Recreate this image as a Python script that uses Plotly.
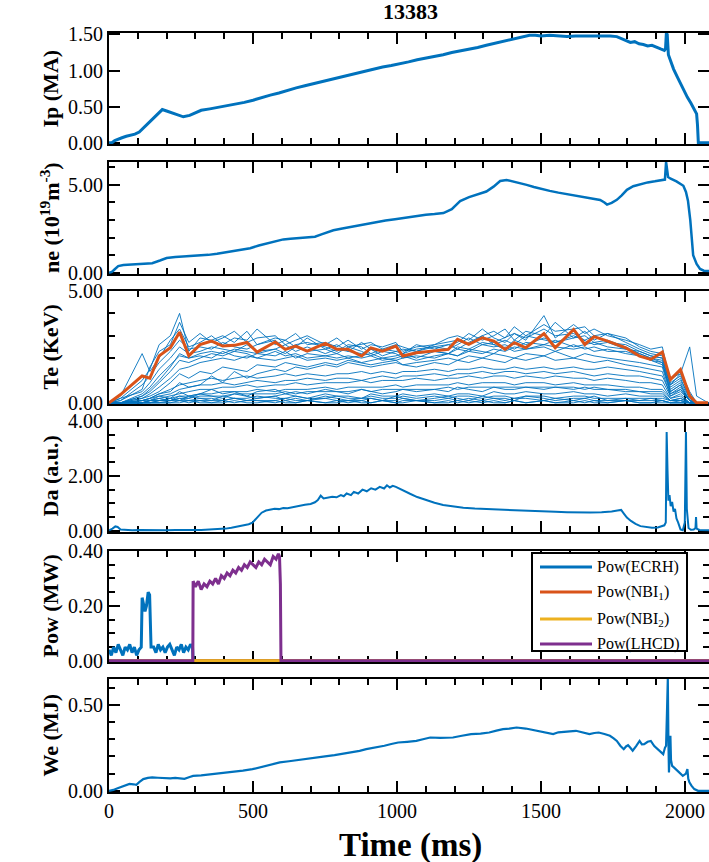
import plotly.graph_objects as go

# ---------------------------------------------------------------- data
SHOT = "13383"

# plasma current (ms, MA)
IP = [(0, 0.0), (10, 0.0), (20, 0.03), (30, 0.05), (45, 0.07), (60, 0.09), (75, 0.10), (90, 0.12),
      (105, 0.15), (120, 0.21), (140, 0.29), (160, 0.37), (175, 0.43), (185, 0.46), (200, 0.44),
      (220, 0.41), (240, 0.38), (258, 0.36), (280, 0.38), (300, 0.42), (320, 0.45), (350, 0.47),
      (380, 0.49), (410, 0.51), (440, 0.53), (470, 0.56), (500, 0.59), (530, 0.63), (560, 0.66),
      (590, 0.69), (620, 0.73), (650, 0.76), (680, 0.79), (710, 0.82), (740, 0.85), (770, 0.88),
      (800, 0.91), (830, 0.94), (860, 0.97), (890, 1.00), (920, 1.02), (950, 1.05), (980, 1.07),
      (1010, 1.09), (1040, 1.12), (1070, 1.15), (1100, 1.17), (1130, 1.20), (1160, 1.22),
      (1190, 1.25), (1220, 1.27), (1250, 1.30), (1280, 1.32), (1310, 1.35), (1340, 1.38),
      (1370, 1.41), (1400, 1.44), (1420, 1.46), (1440, 1.48), (1460, 1.49), (1480, 1.49),
      (1500, 1.48), (1530, 1.49), (1560, 1.48), (1590, 1.47), (1620, 1.48), (1650, 1.48),
      (1680, 1.49), (1710, 1.48), (1740, 1.48), (1763, 1.47), (1780, 1.44), (1795, 1.41),
      (1810, 1.39), (1825, 1.40), (1840, 1.37), (1855, 1.36), (1870, 1.34), (1885, 1.35),
      (1900, 1.32), (1915, 1.30), (1928, 1.28), (1932, 1.30), (1935, 1.52), (1938, 1.50),
      (1942, 1.22), (1950, 1.13), (1960, 1.02), (1972, 0.92), (1985, 0.81), (1997, 0.72),
      (2008, 0.63), (2020, 0.55), (2030, 0.47), (2040, 0.40), (2043, 0.25), (2046, 0.0),
      (2060, 0.0), (2083, 0.0)]

# line-averaged density (ms, 1e19 m^-3)
NE = [(0, 0.0), (10, 0.05), (20, 0.2), (32, 0.38), (50, 0.44), (75, 0.47), (100, 0.5), (125, 0.52),
      (150, 0.55), (177, 0.7), (200, 0.84), (230, 0.9), (260, 0.93), (290, 0.95), (316, 0.97),
      (345, 1.02), (375, 1.08), (405, 1.16), (431, 1.22), (460, 1.3), (490, 1.4), (520, 1.55),
      (550, 1.68), (580, 1.8), (605, 1.9), (630, 1.94), (660, 1.98), (690, 2.02), (715, 2.05),
      (740, 2.2), (779, 2.42), (810, 2.52), (837, 2.6), (870, 2.72), (900, 2.82), (930, 2.9),
      (960, 2.97), (993, 3.05), (1030, 3.15), (1068, 3.25), (1100, 3.3), (1130, 3.34),
      (1161, 3.4), (1190, 3.62), (1219, 4.08), (1250, 4.3), (1280, 4.45), (1310, 4.62),
      (1335, 4.9), (1358, 5.22), (1380, 5.28), (1403, 5.2), (1425, 5.12), (1450, 5.0),
      (1475, 4.88), (1500, 4.76), (1530, 4.66), (1560, 4.56), (1590, 4.48), (1620, 4.4),
      (1650, 4.32), (1680, 4.22), (1705, 4.14), (1720, 4.0), (1729, 3.88), (1745, 3.98),
      (1763, 4.15), (1780, 4.4), (1798, 4.72), (1820, 4.92), (1845, 5.05), (1870, 5.14),
      (1895, 5.2), (1915, 5.24), (1930, 5.3), (1934, 6.3), (1937, 5.9), (1941, 5.45),
      (1950, 5.35), (1970, 5.2), (1994, 4.95), (2003, 4.6), (2010, 4.1), (2018, 3.0),
      (2028, 1.0), (2040, 0.5), (2052, 0.22), (2065, 0.12), (2083, 0.1)]

# electron temperature, ECE channels on a common time base (ms, keV)
TE_T = [0, 40, 115, 142, 174, 213, 245, 277, 316, 356, 395, 435, 479, 514, 577, 612, 648, 688,
        751, 791, 830, 877, 909, 949, 996, 1020, 1067, 1130, 1178, 1210, 1249, 1296, 1336,
        1375, 1407, 1447, 1510, 1549, 1613, 1652, 1684, 1731, 1794, 1842, 1881, 1921, 1949,
        1984, 2016, 2040, 2080]

TE_CORE = [0, 0.37, 1.2, 1.1, 2.1, 2.46, 3.16, 2.1, 2.6, 2.76, 2.54, 2.57, 2.7, 2.27, 2.72,
           2.39, 2.54, 2.31, 2.66, 2.39, 2.39, 2.09, 2.46, 2.31, 2.54, 2.09, 2.24, 2.31, 2.39,
           2.84, 2.61, 2.91, 2.76, 2.39, 2.69, 2.46, 3.1, 2.46, 3.28, 2.61, 2.96, 2.76, 2.46,
           2.09, 1.94, 2.27, 1.04, 1.49, 0.3, 0, 0]

TE_CHANNELS = [
    [0, 0.2, 1.0, 1.5, 2.6, 3.0, 4.0, 2.3, 2.9, 2.8, 3.0, 2.7, 3.2, 2.6, 2.9, 2.8, 3.1, 2.6, 2.7, 2.5,
     2.8, 2.4, 2.6, 2.5, 2.7, 2.3, 2.5, 2.6, 2.9, 3.0, 2.8, 3.3, 2.9, 2.7, 3.1, 2.8, 3.9, 2.9, 3.5, 3.1,
     3.3, 3.0, 2.8, 2.6, 2.4, 2.5, 0.9, 1.2, 0.4, 0, 0],
    [0, 0.3, 2.2, 1.4, 2.0, 2.8, 3.3, 2.5, 2.7, 3.0, 2.6, 2.9, 2.8, 3.3, 2.6, 2.8, 2.5, 2.9, 2.4, 2.6,
     2.3, 2.7, 2.4, 2.3, 2.5, 2.2, 2.6, 2.4, 2.6, 2.7, 3.1, 2.8, 3.0, 3.3, 2.8, 3.2, 3.0, 3.6, 2.9, 3.2,
     2.8, 3.1, 2.7, 2.4, 2.2, 2.1, 1.0, 1.4, 0.5, 0, 0],
    [0, 0.1, 0.8, 1.2, 1.8, 2.3, 2.8, 2.4, 2.5, 2.4, 2.7, 2.5, 2.4, 2.6, 2.8, 2.4, 2.6, 2.7, 2.5, 2.3,
     2.6, 2.5, 2.2, 2.4, 2.3, 2.4, 2.3, 2.5, 2.4, 2.6, 2.9, 2.6, 2.7, 2.9, 3.1, 2.9, 3.3, 3.0, 3.1, 2.8,
     3.0, 2.7, 2.6, 2.3, 2.1, 2.0, 0.8, 1.1, 0.2, 0, 0],
    [0, 0.2, 0.5, 0.9, 1.5, 2.0, 2.5, 2.2, 2.3, 2.5, 2.4, 2.3, 2.6, 2.3, 2.4, 2.6, 2.3, 2.5, 2.2, 2.4,
     2.3, 2.2, 2.4, 2.1, 2.3, 2.2, 2.4, 2.5, 2.6, 2.4, 2.7, 3.0, 2.6, 2.8, 2.6, 3.0, 2.8, 2.7, 2.9, 3.0,
     2.7, 2.8, 2.5, 2.2, 2.0, 1.9, 0.7, 1.0, 0.3, 0, 0],
    [0, 0, 0.3, 0.5, 0.9, 1.4, 1.9, 1.8, 2.0, 2.2, 2.1, 2.3, 2.2, 2.0, 2.3, 2.1, 2.2, 2.0, 2.1, 2.2,
     2.0, 2.1, 2.2, 2.0, 2.1, 2.2, 2.0, 2.3, 2.2, 2.4, 2.3, 2.6, 2.5, 2.6, 2.4, 2.7, 2.6, 2.8, 2.5, 2.6,
     2.7, 2.5, 2.4, 2.2, 2.0, 1.8, 0.6, 0.9, 0.2, 0, 0],
    [0, 0, 0.2, 0.4, 0.7, 1.1, 1.5, 1.6, 1.8, 1.9, 2.0, 1.9, 2.1, 2.0, 1.9, 2.0, 2.1, 1.9, 2.0, 1.9,
     2.0, 1.8, 1.9, 2.0, 1.9, 2.0, 2.1, 2.0, 2.2, 2.1, 2.3, 2.2, 2.4, 2.3, 2.5, 2.4, 2.6, 2.5, 2.4, 2.5,
     2.3, 2.4, 2.2, 2.1, 1.9, 1.8, 0.5, 0.8, 0.1, 0, 0],
    [0, 0, 0.4, 0.7, 1.2, 1.7, 2.1, 2.0, 2.2, 2.3, 2.2, 2.4, 2.3, 2.2, 2.4, 2.2, 2.5, 2.3, 2.4, 2.2,
     2.5, 2.3, 2.1, 2.3, 2.2, 2.0, 2.2, 2.3, 2.2, 2.5, 2.4, 2.7, 2.6, 2.4, 2.8, 2.6, 2.9, 2.7, 3.0, 2.8,
     2.6, 2.7, 2.4, 2.3, 2.1, 2.0, 0.8, 1.3, 2.5, 0.3, 0],
    [0, 0, 0.1, 0.2, 0.4, 0.6, 0.8, 0.9, 1.0, 1.1, 1.0, 1.1, 1.2, 1.1, 1.2, 1.3, 1.2, 1.3, 1.2, 1.3,
     1.3, 1.4, 1.3, 1.4, 1.3, 1.4, 1.4, 1.5, 1.4, 1.5, 1.5, 1.6, 1.5, 1.5, 1.6, 1.5, 1.6, 1.5, 1.6, 1.5,
     1.5, 1.6, 1.5, 1.4, 1.3, 1.2, 0.4, 0.6, 0.1, 0, 0],
    [0, 0, 0.1, 0.1, 0.3, 0.4, 0.6, 0.7, 0.8, 0.8, 0.9, 0.8, 0.9, 1.0, 0.9, 1.0, 1.0, 1.1, 1.0, 1.1,
     1.1, 1.0, 1.1, 1.2, 1.1, 1.2, 1.2, 1.3, 1.2, 1.3, 1.3, 1.4, 1.3, 1.4, 1.4, 1.3, 1.4, 1.3, 1.4, 1.3,
     1.2, 1.3, 1.2, 1.2, 1.1, 1.0, 0.3, 0.5, 0.1, 0, 0],
    [0, 0, 0, 0.1, 0.2, 0.3, 0.4, 0.5, 0.6, 0.6, 0.7, 0.7, 0.8, 0.7, 0.8, 0.8, 0.9, 0.8, 0.9, 0.9,
     0.9, 1.0, 0.9, 1.0, 1.0, 1.0, 1.1, 1.0, 1.1, 1.1, 1.2, 1.1, 1.2, 1.2, 1.1, 1.2, 1.1, 1.2, 1.1, 1.1,
     1.0, 1.1, 1.0, 0.9, 0.9, 0.8, 0.2, 0.4, 0, 0, 0],
    [0, 0, 0.2, 0.3, 0.5, 0.9, 1.3, 1.1, 1.4, 1.3, 1.6, 1.5, 1.4, 1.7, 1.6, 1.8, 1.7, 1.6, 1.8, 1.7,
     1.9, 1.8, 1.7, 1.8, 1.9, 1.7, 1.8, 1.9, 2.0, 1.9, 2.1, 2.0, 2.2, 2.1, 2.0, 2.2, 2.1, 2.3, 2.0, 2.2,
     2.1, 2.0, 1.9, 1.8, 1.7, 1.6, 0.4, 0.7, 0.1, 0, 0],
    [0, 0, 0, 0.1, 0.1, 0.2, 0.3, 0.3, 0.4, 0.4, 0.5, 0.5, 0.5, 0.6, 0.5, 0.6, 0.6, 0.6, 0.7, 0.6,
     0.7, 0.7, 0.7, 0.7, 0.8, 0.7, 0.8, 0.8, 0.8, 0.9, 0.8, 0.9, 0.9, 0.9, 0.8, 0.9, 0.9, 0.8, 0.9, 0.8,
     0.8, 0.8, 0.7, 0.7, 0.6, 0.6, 0.2, 0.3, 0, 0, 0],
    [0, 0, 0, 0, 0.1, 0.1, 0.2, 0.2, 0.3, 0.3, 0.3, 0.4, 0.4, 0.4, 0.4, 0.5, 0.4, 0.5, 0.5, 0.5,
     0.5, 0.6, 0.5, 0.6, 0.6, 0.6, 0.6, 0.6, 0.7, 0.6, 0.7, 0.7, 0.7, 0.7, 0.7, 0.7, 0.7, 0.7, 0.7, 0.6,
     0.7, 0.6, 0.6, 0.5, 0.5, 0.5, 0.1, 0.2, 0, 0, 0],
    [0, 0, 0, 0.1, 0.2, 0.1, 0.3, 0.2, 0.4, 0.3, 0.2, 0.4, 0.3, 0.2, 0.3, 0.4, 0.3, 0.2, 0.4, 0.3,
     0.3, 0.2, 0.4, 0.3, 0.3, 0.4, 0.3, 0.4, 0.3, 0.4, 0.4, 0.3, 0.5, 0.4, 0.4, 0.5, 0.4, 0.4, 0.5, 0.4,
     0.4, 0.3, 0.4, 0.3, 0.3, 0.3, 0.1, 0.1, 0, 0, 0],
    [0, 0, 0, 0, 0.1, 0.1, 0.2, 0.1, 0.2, 0.2, 0.1, 0.2, 0.2, 0.3, 0.2, 0.2, 0.3, 0.2, 0.2, 0.3,
     0.2, 0.2, 0.3, 0.2, 0.2, 0.3, 0.2, 0.3, 0.2, 0.3, 0.3, 0.2, 0.3, 0.3, 0.2, 0.3, 0.3, 0.2, 0.3, 0.3,
     0.2, 0.2, 0.2, 0.2, 0.2, 0.2, 0.1, 0.1, 0, 0, 0],
    [0, 0, 0, 0, 0, 0.1, 0.1, 0.1, 0.1, 0.1, 0.1, 0.2, 0.1, 0.1, 0.1, 0.2, 0.1, 0.1, 0.2, 0.1,
     0.1, 0.1, 0.2, 0.1, 0.1, 0.2, 0.1, 0.1, 0.2, 0.1, 0.2, 0.1, 0.2, 0.1, 0.2, 0.2, 0.1, 0.2, 0.1, 0.2,
     0.1, 0.1, 0.1, 0.1, 0.1, 0.1, 0, 0, 0, 0, 0],
    [0, 0, 0, 0, 0, 0, 0.1, 0, 0.1, 0, 0.1, 0, 0.1, 0.1, 0, 0.1, 0, 0.1, 0, 0.1,
     0, 0.1, 0, 0.1, 0, 0.1, 0.1, 0, 0.1, 0, 0.1, 0, 0.1, 0, 0.1, 0, 0.1, 0, 0.1, 0,
     0.1, 0, 0.1, 0, 0, 0.1, 0, 0, 0, 0, 0],
    [0, 0, 0.1, 0.2, 0.3, 0.2, 0.5, 0.3, 0.4, 0.6, 0.4, 0.5, 0.3, 0.5, 0.6, 0.4, 0.5, 0.4, 0.6, 0.5,
     0.4, 0.6, 0.5, 0.4, 0.5, 0.6, 0.5, 0.6, 0.5, 0.7, 0.6, 0.5, 0.7, 0.6, 0.6, 0.7, 0.6, 0.7, 0.6, 0.7,
     0.6, 0.6, 0.5, 0.5, 0.4, 0.4, 0.1, 0.2, 0, 0, 0],
    [0, 0, 0.1, 0.2, 0.4, 0.5, 0.9, 0.7, 0.8, 1.2, 0.9, 1.4, 1.1, 1.3, 1.5, 1.4, 1.6, 1.5, 1.7, 1.6,
     1.8, 1.7, 1.6, 1.7, 1.8, 1.7, 1.6, 1.8, 1.7, 1.9, 1.8, 2.0, 1.9, 1.8, 2.0, 1.9, 2.1, 1.9, 2.0, 1.9,
     1.8, 1.9, 1.7, 1.6, 1.5, 1.4, 0.3, 0.6, 0.1, 0, 0],
    [0, 0.1, 0.6, 1.6, 2.3, 2.6, 3.6, 2.7, 3.1, 2.7, 2.9, 3.2, 2.7, 2.9, 3.0, 2.6, 2.8, 3.0, 2.6, 2.9,
     2.5, 2.6, 2.7, 2.4, 2.6, 2.5, 2.3, 2.6, 2.7, 2.8, 2.6, 3.0, 3.2, 2.9, 3.4, 3.0, 3.5, 3.2, 3.3, 3.4,
     3.0, 3.1, 2.9, 2.5, 2.3, 2.2, 1.1, 1.3, 0.3, 0, 0],
    [0, 0, 0.3, 0.6, 1.0, 1.6, 2.2, 2.0, 2.1, 2.0, 2.3, 2.1, 2.0, 2.2, 2.1, 2.3, 2.0, 2.2, 2.1, 2.0,
     2.1, 2.0, 2.1, 1.9, 2.0, 2.1, 1.9, 2.1, 2.2, 2.1, 2.4, 2.3, 2.2, 2.5, 2.3, 2.4, 2.5, 2.3, 2.6, 2.4,
     2.5, 2.3, 2.3, 2.1, 1.9, 1.7, 0.5, 0.8, 0.1, 0, 0],
    [0, 0, 0, 0.1, 0.1, 0.2, 0.1, 0.3, 0.2, 0.1, 0.3, 0.2, 0.1, 0.2, 0.3, 0.1, 0.2, 0.1, 0.3, 0.2,
     0.1, 0.2, 0.2, 0.1, 0.3, 0.2, 0.1, 0.2, 0.3, 0.2, 0.1, 0.3, 0.2, 0.2, 0.1, 0.3, 0.2, 0.1, 0.2, 0.2,
     0.3, 0.1, 0.2, 0.1, 0.2, 0.1, 0, 0.1, 0, 0, 0],
    [0, 0, 0, 0, 0, 0, 0, 0.1, 0, 0, 0, 0.1, 0, 0, 0.1, 0, 0, 0.1, 0, 0,
     0.1, 0, 0, 0.1, 0, 0, 0.1, 0, 0, 0.1, 0, 0.1, 0, 0, 0.1, 0, 0.1, 0, 0, 0.1,
     0, 0, 0.1, 0, 0, 0, 0, 0, 0, 0, 0],
]

# D-alpha emission (ms, a.u.)
DA = [(0, 0.02), (12, 0.08), (22, 0.16), (30, 0.14), (40, 0.05), (55, 0.03), (80, 0.02), (110, 0.03),
      (140, 0.02), (170, 0.03), (200, 0.02), (230, 0.03), (260, 0.02), (290, 0.03), (320, 0.03),
      (350, 0.04), (380, 0.05), (405, 0.08), (425, 0.11), (445, 0.15), (465, 0.19), (485, 0.24),
      (498, 0.30), (508, 0.42), (518, 0.55), (530, 0.66), (545, 0.74), (560, 0.76), (575, 0.80),
      (590, 0.79), (605, 0.83), (620, 0.82), (640, 0.87), (660, 0.90), (680, 0.95), (700, 0.98),
      (715, 1.04), (725, 1.12), (735, 1.28), (745, 1.18), (760, 1.20), (775, 1.24), (790, 1.22),
      (805, 1.30), (815, 1.26), (825, 1.36), (840, 1.30), (850, 1.42), (865, 1.36), (880, 1.50),
      (895, 1.44), (910, 1.55), (925, 1.50), (940, 1.60), (955, 1.54), (965, 1.66), (975, 1.58),
      (985, 1.64), (996, 1.60), (1005, 1.55), (1020, 1.47), (1045, 1.35), (1070, 1.23),
      (1100, 1.12), (1130, 1.02), (1160, 0.94), (1195, 0.88), (1230, 0.84), (1270, 0.81),
      (1310, 0.79), (1350, 0.78), (1390, 0.77), (1430, 0.74), (1470, 0.71), (1510, 0.70),
      (1550, 0.69), (1590, 0.68), (1630, 0.67), (1670, 0.67), (1710, 0.68), (1745, 0.70),
      (1765, 0.74), (1778, 0.76), (1788, 0.62), (1798, 0.48), (1812, 0.36), (1828, 0.25),
      (1845, 0.17), (1865, 0.13), (1885, 0.11), (1905, 0.12), (1920, 0.16), (1928, 0.20),
      (1933, 0.30), (1936, 3.60), (1939, 2.20), (1942, 1.10), (1946, 1.30), (1950, 0.90),
      (1955, 1.05), (1960, 0.70), (1965, 0.80), (1970, 0.45), (1976, 0.30), (1984, 0.05),
      (1992, 0.02), (1999, 0.30), (2003, 3.60), (2006, 0.80), (2012, 0.10), (2020, 0.04),
      (2030, 0.05), (2036, 0.10), (2038, 0.50), (2040, 0.08), (2050, 0.03), (2083, 0.02)]

# heating powers (ms, MW)
P_ECRH = [(0, 0.04), (8, 0.02), (16, 0.05), (24, 0.03), (32, 0.06), (40, 0.04), (48, 0.02), (56, 0.05),
          (64, 0.04), (72, 0.06), (80, 0.03), (88, 0.05), (96, 0.02), (104, 0.04), (112, 0.05),
          (115, 0.23), (120, 0.21), (125, 0.18), (130, 0.20), (136, 0.25), (141, 0.24), (146, 0.05),
          (155, 0.05), (163, 0.03), (171, 0.06), (179, 0.04), (187, 0.05), (195, 0.03), (203, 0.05),
          (211, 0.06), (219, 0.04), (227, 0.02), (235, 0.05), (243, 0.04), (251, 0.06), (259, 0.03),
          (267, 0.05), (275, 0.04), (283, 0.06), (290, 0.05), (292, 0.0), (2083, 0.0)]
P_NBI1 = [(0, 0.0), (2083, 0.0)]
P_NBI2 = [(0, 0.0), (2083, 0.0)]
P_LHCD = [(0, 0.0), (291, 0.0), (292, 0.29), (300, 0.27), (310, 0.29), (320, 0.26), (330, 0.28),
          (340, 0.27), (350, 0.29), (360, 0.28), (370, 0.30), (380, 0.28), (390, 0.31), (400, 0.30),
          (410, 0.32), (420, 0.31), (430, 0.33), (440, 0.32), (450, 0.34), (460, 0.33), (470, 0.35),
          (480, 0.34), (490, 0.36), (500, 0.35), (510, 0.34), (520, 0.36), (530, 0.35), (540, 0.37),
          (550, 0.36), (560, 0.35), (570, 0.38), (580, 0.37), (588, 0.39), (592, 0.38), (595, 0.28),
          (597, 0.0), (2083, 0.0)]

# stored energy (ms, MJ)
WE = [(0, 0.0), (15, 0.005), (30, 0.015), (45, 0.025), (60, 0.035), (71, 0.04), (85, 0.038),
      (95, 0.035), (105, 0.05), (119, 0.068), (135, 0.075), (150, 0.078), (170, 0.076),
      (190, 0.074), (213, 0.072), (230, 0.075), (245, 0.073), (262, 0.07), (280, 0.08),
      (292, 0.087), (320, 0.09), (356, 0.097), (390, 0.1), (420, 0.106), (435, 0.11),
      (465, 0.117), (498, 0.126), (515, 0.133), (530, 0.141), (560, 0.152), (593, 0.165),
      (625, 0.172), (656, 0.18), (690, 0.187), (719, 0.194), (750, 0.2), (783, 0.207),
      (815, 0.215), (846, 0.223), (870, 0.232), (893, 0.242), (925, 0.25), (956, 0.262),
      (980, 0.272), (1004, 0.281), (1035, 0.285), (1067, 0.29), (1090, 0.3), (1115, 0.31),
      (1150, 0.308), (1194, 0.31), (1225, 0.32), (1257, 0.33), (1290, 0.333), (1320, 0.339),
      (1345, 0.35), (1368, 0.359), (1390, 0.362), (1415, 0.368), (1447, 0.362), (1470, 0.355),
      (1494, 0.349), (1520, 0.338), (1542, 0.33), (1560, 0.34), (1573, 0.343), (1600, 0.346),
      (1621, 0.349), (1645, 0.338), (1668, 0.33), (1685, 0.336), (1700, 0.339), (1720, 0.33),
      (1739, 0.32), (1752, 0.305), (1763, 0.29), (1775, 0.262), (1787, 0.242), (1795, 0.258),
      (1802, 0.265), (1810, 0.25), (1818, 0.233), (1830, 0.26), (1842, 0.29), (1850, 0.27),
      (1858, 0.271), (1870, 0.285), (1881, 0.29), (1893, 0.26), (1905, 0.242), (1915, 0.225),
      (1924, 0.213), (1930, 0.25), (1934, 0.262), (1937, 0.45), (1940, 0.65), (1942, 0.3),
      (1944, 0.107), (1947, 0.25), (1949, 0.32), (1951, 0.18), (1955, 0.145), (1962, 0.135),
      (1968, 0.126), (1980, 0.105), (1992, 0.087), (2003, 0.1), (2008, 0.126), (2011, 0.07),
      (2015, 0.05), (2022, 0.03), (2032, 0.01), (2045, 0.0), (2083, 0.0)]

LEGEND_NAMES = ["Pow(ECRH)", "Pow(NBI<sub>1</sub>)", "Pow(NBI<sub>2</sub>)", "Pow(LHCD)"]
X_RANGE = [0, 2083]

# ---------------------------------------------------------------- style
W, H = 709, 862
LEFT = 109
BLUE, RED, YELLOW, PURPLE = "#0072BD", "#D95319", "#EDB120", "#7E2F8E"
SERIF = "Liberation Serif, Times New Roman, serif"

# panel: title, top px, bottom px, y max, major step, minor step
PANELS = [
    ("Ip (MA)", 33, 144, 1.52, 0.5, None),
    ("ne (10<sup>19</sup>m<sup>-3</sup>)", 162, 274, 6.3, 5, 1),
    ("Te (KeV)", 291, 404, 5.0, 5, 1),
    ("Da (a.u.)", 421, 532, 4.0, 2, 0.5),
    ("Pow (MW)", 551, 662, 0.4, 0.2, 0.05),
    ("We (MJ)", 679, 792, 0.65, 0.5, 0.1),
]


def px_x(px):
    return (px - LEFT) / (W - LEFT)


def px_y(py):
    return 1 - py / H


def unzip(pairs):
    return [p[0] for p in pairs], [p[1] for p in pairs]


fig = go.Figure()


def add_line(pairs, row, color, width, name=None):
    t, v = unzip(pairs)
    fig.add_trace(go.Scatter(
        x=t, y=v, mode="lines", name=name, showlegend=False,
        line=dict(color=color, width=width),
        xaxis="x" if row == 1 else f"x{row}", yaxis="y" if row == 1 else f"y{row}",
    ))


add_line(IP, 1, BLUE, 3)
add_line(NE, 2, BLUE, 2.5)
for ch in TE_CHANNELS:
    fig.add_trace(go.Scatter(x=TE_T, y=ch, mode="lines", showlegend=False,
                             line=dict(color=BLUE, width=0.9), xaxis="x3", yaxis="y3"))
fig.add_trace(go.Scatter(x=TE_T, y=TE_CORE, mode="lines", showlegend=False,
                         line=dict(color=RED, width=3), xaxis="x3", yaxis="y3"))
add_line(DA, 4, BLUE, 2)
for pairs, color, name in zip([P_ECRH, P_NBI1, P_NBI2, P_LHCD], [BLUE, RED, YELLOW, PURPLE], LEGEND_NAMES):
    add_line(pairs, 5, color, 3, name)
add_line(WE, 6, BLUE, 2.2)

axis_font = dict(family=SERIF, size=20, color="black")
layout = dict(
    width=W, height=H, template="none",
    margin=dict(l=LEFT, r=0, t=0, b=0),
    paper_bgcolor="white", plot_bgcolor="white",
    showlegend=False, font=dict(family=SERIF, color="black"),
)

n = len(PANELS)
for i, (title, top, bot, ymax, major, minor) in enumerate(PANELS, start=1):
    sfx = "" if i == 1 else str(i)
    height_px = bot - top
    ymin = -1.2 * ymax / height_px
    layout[f"xaxis{sfx}"] = dict(
        domain=[0, 1], anchor=f"y{sfx}", range=X_RANGE, matches=None if i == 1 else "x",
        showline=True, linecolor="black", linewidth=2, mirror="ticks",
        ticks="inside", ticklen=11, tickwidth=2, tickcolor="black",
        tick0=0, dtick=500, showgrid=False, zeroline=False, automargin=False,
        minor=dict(ticks="inside", dtick=100, ticklen=6, tickwidth=2, tickcolor="black", showgrid=False),
        showticklabels=(i == n), tickfont=axis_font, layer="below traces",
    )
    yax = dict(
        domain=[px_y(bot), px_y(top)], anchor=f"x{sfx}", range=[ymin, ymax],
        showline=True, linecolor="black", linewidth=2, mirror=False,
        ticks="inside", ticklen=11, tickwidth=2, tickcolor="black",
        tick0=0, dtick=major, tickformat=".2f", showgrid=False, zeroline=False,
        automargin=False, tickfont=axis_font, layer="below traces",
    )
    if minor:
        yax["minor"] = dict(ticks="inside", dtick=minor, ticklen=6, tickwidth=2,
                            tickcolor="black", showgrid=False)
    layout[f"yaxis{sfx}"] = yax
    # tick marks along the right edge of each panel
    r = n + i
    right = dict(yax)
    right.pop("domain")
    right.update(overlaying=f"y{sfx}", side="right", showline=False, showticklabels=False,
                 anchor=f"x{sfx}")
    layout[f"yaxis{r}"] = right
    fig.add_trace(go.Scatter(x=[None], y=[None], mode="lines", showlegend=False, hoverinfo="skip",
                             xaxis=f"x{sfx}", yaxis=f"y{r}"))

fig.update_layout(**layout)

annotations = [
    dict(text=f"<b>{SHOT}</b>", x=px_x(410), y=px_y(12), xref="paper", yref="paper",
         showarrow=False, font=dict(family=SERIF, size=22, color="black"),
         xanchor="center", yanchor="middle"),
    dict(text="<b>Time (ms)</b>", x=px_x(410), y=px_y(845), xref="paper", yref="paper",
         showarrow=False, font=dict(family=SERIF, size=33, color="black"),
         xanchor="center", yanchor="middle"),
]
for title, top, bot, *_ in PANELS:
    annotations.append(dict(
        text=f"<b>{title}</b>", x=px_x(50), y=px_y((top + bot) / 2), xref="paper", yref="paper",
        showarrow=False, textangle=-90, font=dict(family=SERIF, size=22, color="black"),
        xanchor="center", yanchor="middle"))

# legend for the power panel
shapes = [dict(type="rect", xref="paper", yref="paper",
               x0=px_x(532), x1=px_x(687), y0=px_y(651), y1=px_y(553),
               line=dict(color="black", width=2), fillcolor="white", layer="above")]
entry_y = [567, 592, 619, 644]
for name, color, ey in zip(LEGEND_NAMES, [BLUE, RED, YELLOW, PURPLE], entry_y):
    shapes.append(dict(type="line", xref="paper", yref="paper",
                       x0=px_x(540), x1=px_x(592), y0=px_y(ey), y1=px_y(ey),
                       line=dict(color=color, width=3), layer="above"))
    annotations.append(dict(text=name, x=px_x(595), y=px_y(ey), xref="paper", yref="paper",
                            showarrow=False, xanchor="left", yanchor="middle",
                            font=dict(family=SERIF, size=16, color="black")))

fig.update_layout(annotations=annotations, shapes=shapes)
fig.write_html("out.html")
